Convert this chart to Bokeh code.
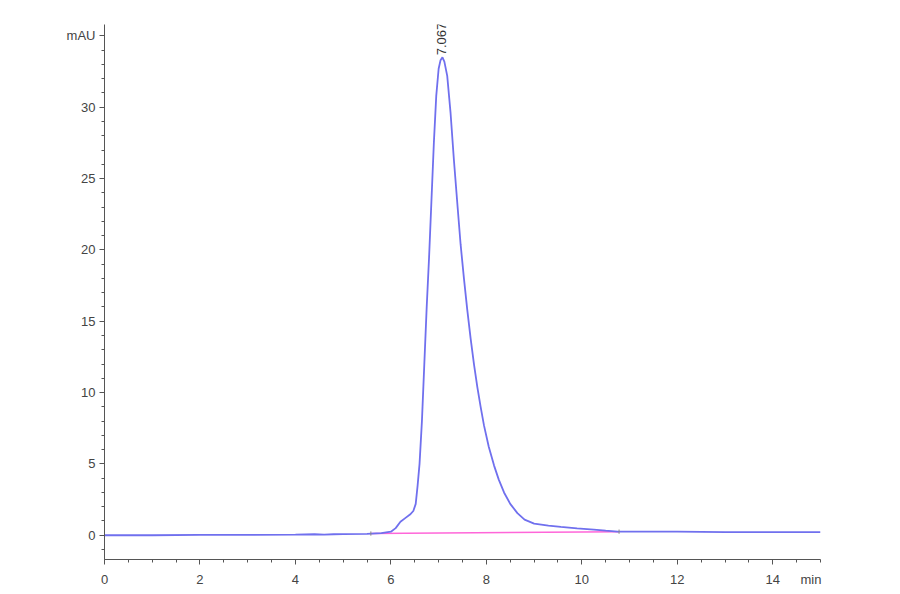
import math
from bokeh.plotting import figure
from bokeh.models import FixedTicker, LinearAxis, Range1d, CustomLabelingPolicy
from bokeh.core.properties import value
from bokeh.embed import file_html
from bokeh.resources import INLINE

# Chromatogram trace (time in min, signal in mAU)
time_min = [0.0, 1.0, 2.0, 3.0, 4.0, 4.4, 4.6, 4.8, 5.0, 5.5, 5.8, 6.0, 6.1, 6.2, 6.3, 6.4,
            6.47, 6.52, 6.56, 6.60, 6.65, 6.70, 6.75, 6.80, 6.85, 6.90, 6.95, 7.00, 7.04,
            7.08, 7.12, 7.18, 7.25, 7.32, 7.40, 7.46, 7.53, 7.60, 7.67, 7.74, 7.81, 7.88,
            7.95, 8.05, 8.16, 8.26, 8.37, 8.5, 8.65, 8.8, 9.0, 9.3, 9.56, 9.9, 10.25, 10.5,
            10.75, 11.0, 12.0, 13.0, 14.0, 15.0]
signal_mau = [0.0, 0.0, 0.02, 0.03, 0.04, 0.07, 0.05, 0.07, 0.08, 0.10, 0.15, 0.25, 0.5, 0.95,
              1.2, 1.45, 1.7, 2.2, 3.5, 5.0, 8.0, 12.0, 16.0, 19.5, 23.5, 27.5, 30.8, 32.7,
              33.3, 33.5, 33.2, 32.2, 29.6, 26.3, 22.9, 20.4, 18.0, 15.8, 13.8, 12.0, 10.4,
              9.0, 7.7, 6.2, 4.9, 3.9, 3.0, 2.2, 1.55, 1.1, 0.82, 0.68, 0.58, 0.48, 0.4, 0.32,
              0.25, 0.25, 0.25, 0.22, 0.22, 0.22]

# Integration baseline
baseline_t = [5.58, 10.78]
baseline_y = [0.12, 0.25]

# Peak annotation
peak_rt = 7.067
peak_height = 33.5
peak_label = "7.067"

x_ticks = [0, 2, 4, 6, 8, 10, 12, 14]
x_unit_pos = 14.8
x_unit = "min"
y_ticks = [0, 5, 10, 15, 20, 25, 30, 35]
y_tick_labels = {35: "mAU"}

font = "'Liberation Sans Narrow', 'Liberation Sans', sans-serif"
axis_col = "#555555"
label_col = "#444444"

p = figure(width=884, height=578, output_backend="svg", toolbar_location=None,
           x_range=Range1d(0, 15), y_range=Range1d(-1.7, 35.8),
           frame_width=716, frame_height=535,
           min_border_left=104, min_border_top=24, min_border_right=60, min_border_bottom=10)
p.outline_line_color = None
p.grid.visible = False
p.background_fill_color = "white"
p.border_fill_color = "white"

p.xaxis.ticker = FixedTicker(ticks=x_ticks, minor_ticks=[i * 0.5 for i in range(31)])
p.yaxis.ticker = FixedTicker(ticks=y_ticks, minor_ticks=list(range(-1, 36)))
p.yaxis.major_label_overrides = y_tick_labels

for ax in (p.xaxis, p.yaxis):
    ax.axis_line_color = axis_col
    ax.axis_line_width = 1
    ax.major_tick_line_color = axis_col
    ax.minor_tick_line_color = axis_col
    ax.major_tick_out = 5
    ax.major_tick_in = 0
    ax.minor_tick_out = 3
    ax.minor_tick_in = 0
    ax.major_label_text_font = font
    ax.major_label_text_font_size = "13px"
    ax.major_label_text_color = label_col
    ax.major_label_standoff = 4

# main x axis: line and ticks only; its labels are not drawn, they come from a second axis
p.xaxis.major_label_text_font_size = "1px"
p.xaxis.major_label_standoff = 0
p.xaxis.major_label_policy = CustomLabelingPolicy(code="""
    for (const i of indices)
        indices.unset(i)
    return indices
""")

label_axis = LinearAxis(ticker=FixedTicker(ticks=x_ticks + [x_unit_pos], minor_ticks=[]),
                        major_label_overrides={x_unit_pos: x_unit})
label_axis.axis_line_color = None
label_axis.major_tick_line_color = None
label_axis.minor_tick_line_color = None
label_axis.major_tick_out = 0
label_axis.major_tick_in = 0
label_axis.major_label_standoff = 3
label_axis.major_label_text_font = font
label_axis.major_label_text_font_size = "13px"
label_axis.major_label_text_color = label_col
p.add_layout(label_axis, "below")

p.line(baseline_t, baseline_y, line_color="#ff66d9", line_width=1.6)
p.line(time_min, signal_mau, line_color="#7070ee", line_width=1.8)
p.segment(x0=baseline_t, y0=[b - 0.15 for b in baseline_y], x1=baseline_t,
          y1=[b + 0.15 for b in baseline_y], line_color="#888888", line_width=1)

p.text(x=[peak_rt], y=[peak_height], text=[peak_label], angle=math.pi / 2,
       text_align="left", text_baseline="middle", x_offset=0, y_offset=-2,
       text_font=value(font), text_font_size="13px", text_color="#333333")

open("out.html", "w").write(file_html(p, INLINE))
